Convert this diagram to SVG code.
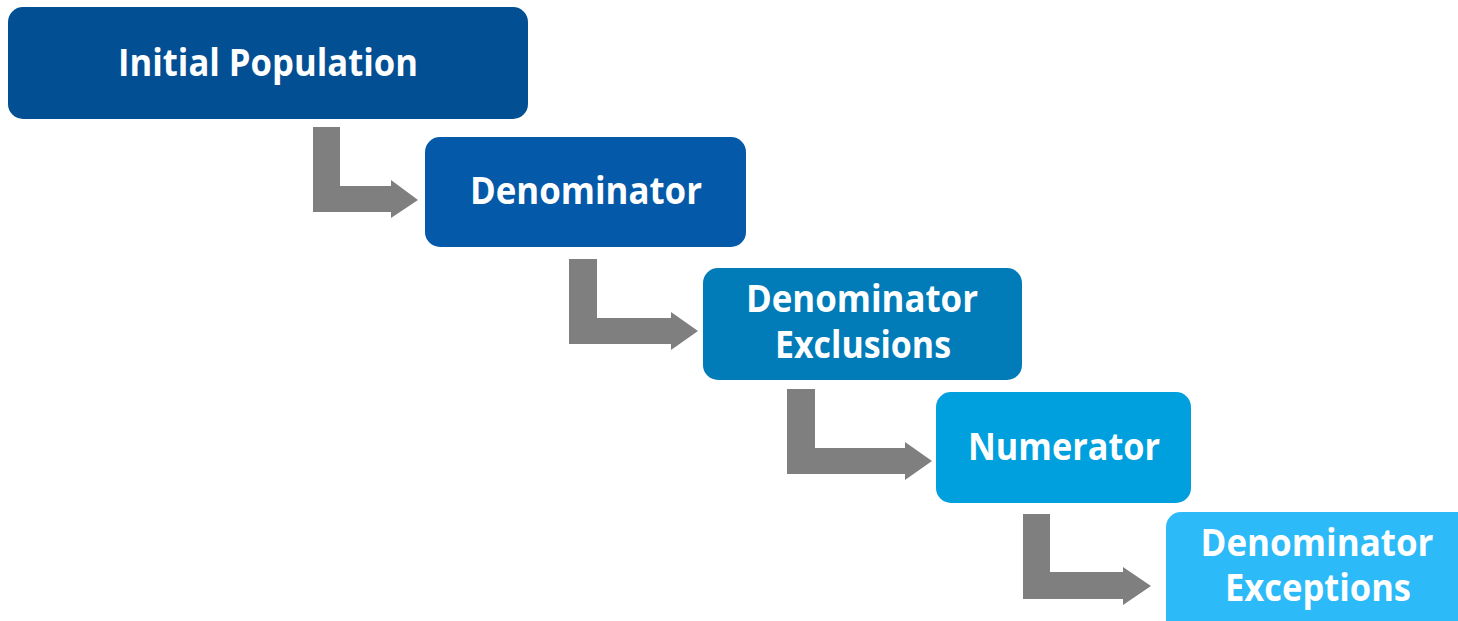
<svg xmlns="http://www.w3.org/2000/svg" width="1458" height="621" viewBox="0 0 1458 621">
<style>
.box{stroke:none}
.lbl{font-family:"Open Sans","Noto Sans","Liberation Sans",sans-serif;font-weight:bold;font-size:37px;fill:#ffffff;text-anchor:middle}
.arr{fill:#7f7f7f;stroke:none}
</style>
<rect width="1458" height="621" fill="#ffffff"/>
<g id="connectors">
<path class="arr" d="M313,127 H340 V186 H391 V180 L418,200 L391,218 V212 H313 Z"/>
<path class="arr" d="M569,259 H597 V318 H671 V312 L698,331 L671,350 V344 H569 Z"/>
<path class="arr" d="M787,389 H815 V448 H905 V442 L932,461 L905,480 V474 H787 Z"/>
<path class="arr" d="M1023,514 H1050 V572 H1123 V567 L1151,586 L1123,605 V599 H1023 Z"/>
</g>
<g id="node-initial-population">
<rect class="box" x="8" y="7" width="520" height="112" rx="15" fill="#034f94"/>
<text class="lbl" x="268" y="76" textLength="300" lengthAdjust="spacingAndGlyphs">Initial Population</text>
</g>
<g id="node-denominator">
<rect class="box" x="425" y="137" width="321" height="110" rx="15" fill="#0459a8"/>
<text class="lbl" x="586" y="204" textLength="232" lengthAdjust="spacingAndGlyphs">Denominator</text>
</g>
<g id="node-denominator-exclusions">
<rect class="box" x="703" y="268" width="319" height="112" rx="15" fill="#017cb8"/>
<text class="lbl" x="862" y="312" textLength="232" lengthAdjust="spacingAndGlyphs">Denominator</text>
<text class="lbl" x="863" y="358" textLength="176" lengthAdjust="spacingAndGlyphs">Exclusions</text>
</g>
<g id="node-numerator">
<rect class="box" x="936" y="392" width="255" height="111" rx="15" fill="#009fdd"/>
<text class="lbl" x="1064" y="460" textLength="192" lengthAdjust="spacingAndGlyphs">Numerator</text>
</g>
<g id="node-denominator-exceptions">
<rect class="box" x="1166" y="512" width="310" height="125" rx="15" fill="#2cbaf8"/>
<text class="lbl" x="1317" y="556" textLength="233" lengthAdjust="spacingAndGlyphs">Denominator</text>
<text class="lbl" x="1318" y="601" textLength="186" lengthAdjust="spacingAndGlyphs">Exceptions</text>
</g>
</svg>
